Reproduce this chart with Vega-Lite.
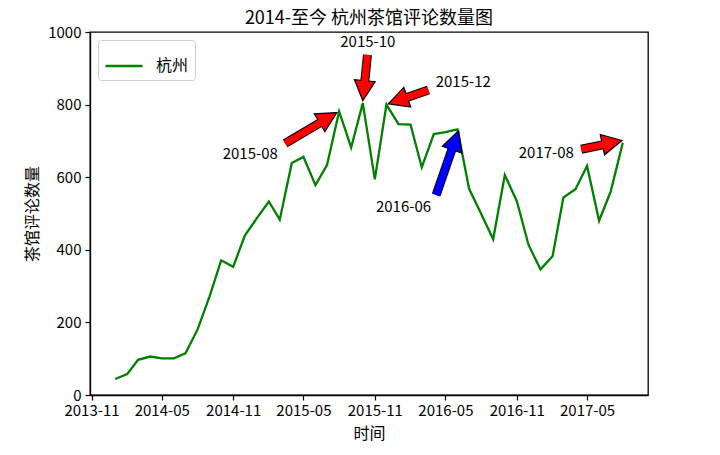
{
  "$schema": "https://vega.github.io/schema/vega-lite/v6.json",
  "width": 558,
  "height": 363,
  "autosize": {"type": "none"},
  "padding": {"left": 90, "top": 32, "right": 72, "bottom": 60},
  "background": "white",
  "title": {"text": "2014-至今 杭州茶馆评论数量图", "font": "Noto Sans CJK SC", "fontSize": 18, "fontWeight": "normal", "color": "black", "offset": -3},
  "config": {
    "view": {"stroke": "black", "strokeWidth": 1.3},
    "axis": {"domainColor": "black", "domainWidth": 1.3, "tickColor": "black", "tickWidth": 1.2, "tickSize": 5, "grid": false, "labelFont": "Noto Sans CJK SC", "labelFontSize": 15, "labelColor": "black", "titleFont": "Noto Sans CJK SC", "titleFontSize": 16, "titleFontWeight": "normal", "titleColor": "black"},
    "legend": {"labelFont": "Noto Sans CJK SC", "labelFontSize": 16, "labelColor": "black"}
  },
  "datasets": {
    "main": [
      {"date": "2014-01-01", "value": 44, "city": "杭州"},
      {"date": "2014-02-01", "value": 58, "city": "杭州"},
      {"date": "2014-03-01", "value": 97, "city": "杭州"},
      {"date": "2014-04-01", "value": 106, "city": "杭州"},
      {"date": "2014-05-01", "value": 101, "city": "杭州"},
      {"date": "2014-06-01", "value": 101, "city": "杭州"},
      {"date": "2014-07-01", "value": 115, "city": "杭州"},
      {"date": "2014-08-01", "value": 180, "city": "杭州"},
      {"date": "2014-09-01", "value": 271, "city": "杭州"},
      {"date": "2014-10-01", "value": 371, "city": "杭州"},
      {"date": "2014-11-01", "value": 353, "city": "杭州"},
      {"date": "2014-12-01", "value": 439, "city": "杭州"},
      {"date": "2015-01-01", "value": 487, "city": "杭州"},
      {"date": "2015-02-01", "value": 533, "city": "杭州"},
      {"date": "2015-03-01", "value": 483, "city": "杭州"},
      {"date": "2015-04-01", "value": 639, "city": "杭州"},
      {"date": "2015-05-01", "value": 656, "city": "杭州"},
      {"date": "2015-06-01", "value": 578, "city": "杭州"},
      {"date": "2015-07-01", "value": 634, "city": "杭州"},
      {"date": "2015-08-01", "value": 781, "city": "杭州"},
      {"date": "2015-09-01", "value": 682, "city": "杭州"},
      {"date": "2015-10-01", "value": 804, "city": "杭州"},
      {"date": "2015-11-01", "value": 594, "city": "杭州"},
      {"date": "2015-12-01", "value": 800, "city": "杭州"},
      {"date": "2016-01-01", "value": 746, "city": "杭州"},
      {"date": "2016-02-01", "value": 745, "city": "杭州"},
      {"date": "2016-03-01", "value": 627, "city": "杭州"},
      {"date": "2016-04-01", "value": 719, "city": "杭州"},
      {"date": "2016-05-01", "value": 724, "city": "杭州"},
      {"date": "2016-06-01", "value": 732, "city": "杭州"},
      {"date": "2016-07-01", "value": 568, "city": "杭州"},
      {"date": "2016-08-01", "value": 499, "city": "杭州"},
      {"date": "2016-09-01", "value": 429, "city": "杭州"},
      {"date": "2016-10-01", "value": 606, "city": "杭州"},
      {"date": "2016-11-01", "value": 534, "city": "杭州"},
      {"date": "2016-12-01", "value": 414, "city": "杭州"},
      {"date": "2017-01-01", "value": 346, "city": "杭州"},
      {"date": "2017-02-01", "value": 382, "city": "杭州"},
      {"date": "2017-03-01", "value": 544, "city": "杭州"},
      {"date": "2017-04-01", "value": 567, "city": "杭州"},
      {"date": "2017-05-01", "value": 631, "city": "杭州"},
      {"date": "2017-06-01", "value": 480, "city": "杭州"},
      {"date": "2017-07-01", "value": 561, "city": "杭州"},
      {"date": "2017-08-01", "value": 695, "city": "杭州"}
    ],
    "ann": [
      {"label": "2015-08", "tx": "2014-12-15", "ty": 664, "sx": "2015-03-15", "sy": 693, "ex": "2015-07-02", "ey": 762, "hx": "2015-07-26", "hy": 778},
      {"label": "2015-10", "tx": "2015-10-14", "ty": 973, "sx": "2015-10-13", "sy": 937, "ex": "2015-10-04", "ey": 841, "hx": "2015-10-01", "hy": 811},
      {"label": "2015-12", "tx": "2016-06-16", "ty": 863, "sx": "2016-03-18", "sy": 840, "ex": "2016-01-02", "ey": 812, "hx": "2015-12-06", "hy": 802},
      {"label": "2016-06", "tx": "2016-01-14", "ty": 517, "sx": "2016-04-07", "sy": 551, "ex": "2016-05-25", "ey": 699, "hx": "2016-06-04", "hy": 728},
      {"label": "2017-08", "tx": "2017-01-16", "ty": 666, "sx": "2017-04-16", "sy": 677, "ex": "2017-07-02", "ey": 694, "hx": "2017-07-30", "hy": 701}
    ]
  },
  "layer": [
    {
      "data": {"name": "main"},
      "mark": {"type": "line", "strokeWidth": 2.3},
      "encoding": {
        "x": {"field": "date", "type": "temporal", "title": "时间",
          "scale": {"type": "utc", "domain": [{"year": 2013, "month": 10, "date": 28, "utc": true}, {"year": 2017, "month": 10, "date": 5, "utc": true}]},
          "axis": {"format": "%Y-%m", "labelPadding": 3, "titlePadding": 7,
            "values": [
              {"year": 2013, "month": 11, "date": 1, "utc": true},
              {"year": 2014, "month": 5, "date": 1, "utc": true},
              {"year": 2014, "month": 11, "date": 1, "utc": true},
              {"year": 2015, "month": 5, "date": 1, "utc": true},
              {"year": 2015, "month": 11, "date": 1, "utc": true},
              {"year": 2016, "month": 5, "date": 1, "utc": true},
              {"year": 2016, "month": 11, "date": 1, "utc": true},
              {"year": 2017, "month": 5, "date": 1, "utc": true}
            ]}},
        "y": {"field": "value", "type": "quantitative", "title": "茶馆评论数量",
          "scale": {"domain": [0, 1000], "nice": false},
          "axis": {"values": [0, 200, 400, 600, 800, 1000], "format": "d", "labelPadding": 4, "titlePadding": 7}},
        "color": {"field": "city", "type": "nominal", "scale": {"range": ["#008000"]},
          "legend": {"title": null, "orient": "top-left", "offset": 8, "symbolType": "stroke", "symbolSize": 1369, "symbolStrokeWidth": 2.3, "fillColor": "white", "strokeColor": "#cccccc", "cornerRadius": 3, "padding": 6, "labelOffset": 12}}
      }
    },
    {
      "data": {"name": "ann"},
      "mark": {"type": "rule", "strokeWidth": 9, "color": "black", "strokeCap": "butt"},
      "encoding": {
        "x": {"field": "sx", "type": "temporal"},
        "y": {"field": "sy", "type": "quantitative"},
        "x2": {"field": "ex"},
        "y2": {"field": "ey"}
      }
    },
    {
      "data": {"name": "ann"},
      "transform": [{"filter": "datum.label === '2015-08'"}],
      "mark": {"type": "point", "shape": "M0,0L-1,-0.52L-1,0.52Z", "size": 1600, "filled": true, "opacity": 1, "fill": "#ff0000", "stroke": "black", "strokeWidth": 1.2, "angle": -30.6},
      "encoding": {"x": {"field": "hx", "type": "temporal"}, "y": {"field": "hy", "type": "quantitative"}}
    },
    {
      "data": {"name": "ann"},
      "transform": [{"filter": "datum.label === '2015-10'"}],
      "mark": {"type": "point", "shape": "M0,0L-1,-0.52L-1,0.52Z", "size": 1600, "filled": true, "opacity": 1, "fill": "#ff0000", "stroke": "black", "strokeWidth": 1.2, "angle": 95.7},
      "encoding": {"x": {"field": "hx", "type": "temporal"}, "y": {"field": "hy", "type": "quantitative"}}
    },
    {
      "data": {"name": "ann"},
      "transform": [{"filter": "datum.label === '2015-12'"}],
      "mark": {"type": "point", "shape": "M0,0L-1,-0.52L-1,0.52Z", "size": 1600, "filled": true, "opacity": 1, "fill": "#ff0000", "stroke": "black", "strokeWidth": 1.2, "angle": 160.7},
      "encoding": {"x": {"field": "hx", "type": "temporal"}, "y": {"field": "hy", "type": "quantitative"}}
    },
    {
      "data": {"name": "ann"},
      "transform": [{"filter": "datum.label === '2016-06'"}],
      "mark": {"type": "point", "shape": "M0,0L-1,-0.52L-1,0.52Z", "size": 1600, "filled": true, "opacity": 1, "fill": "#0000ff", "stroke": "black", "strokeWidth": 1.2, "angle": -70.9},
      "encoding": {"x": {"field": "hx", "type": "temporal"}, "y": {"field": "hy", "type": "quantitative"}}
    },
    {
      "data": {"name": "ann"},
      "transform": [{"filter": "datum.label === '2017-08'"}],
      "mark": {"type": "point", "shape": "M0,0L-1,-0.52L-1,0.52Z", "size": 1600, "filled": true, "opacity": 1, "fill": "#ff0000", "stroke": "black", "strokeWidth": 1.2, "angle": -11.9},
      "encoding": {"x": {"field": "hx", "type": "temporal"}, "y": {"field": "hy", "type": "quantitative"}}
    },
    {
      "data": {"name": "ann"},
      "mark": {"type": "rule", "strokeWidth": 7, "strokeCap": "butt"},
      "encoding": {
        "x": {"field": "sx", "type": "temporal"},
        "y": {"field": "sy", "type": "quantitative"},
        "x2": {"field": "ex"},
        "y2": {"field": "ey"},
        "stroke": {"condition": {"test": "datum.label === '2016-06'", "value": "#0000ff"}, "value": "#ff0000"}
      }
    },
    {
      "data": {"name": "ann"},
      "mark": {"type": "text", "font": "Noto Sans CJK SC", "fontSize": 15, "align": "center", "baseline": "middle", "color": "black"},
      "encoding": {
        "x": {"field": "tx", "type": "temporal"},
        "y": {"field": "ty", "type": "quantitative"},
        "text": {"field": "label"}
      }
    }
  ]
}
